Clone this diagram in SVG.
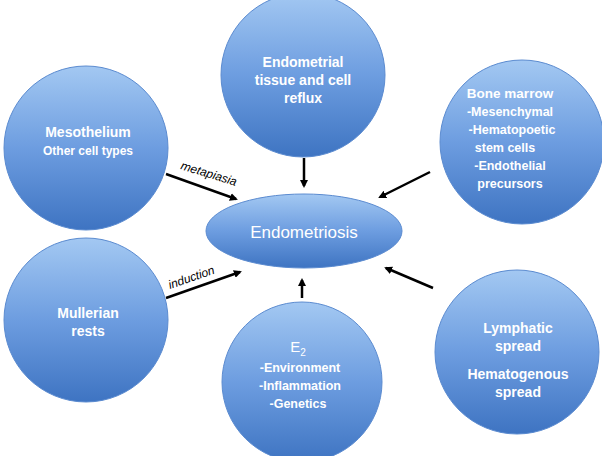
<svg xmlns="http://www.w3.org/2000/svg" width="602" height="456" viewBox="0 0 602 456">
<defs>
<linearGradient id="g" x1="0" y1="0" x2="0" y2="1"><stop offset="0" stop-color="#a3c8f2"/><stop offset="0.5" stop-color="#6d9de0"/><stop offset="1" stop-color="#3e74c2"/></linearGradient>
<marker id="a" markerWidth="8" markerHeight="8" refX="6" refY="4" orient="auto" markerUnits="userSpaceOnUse"><path d="M0,0 L8,4 L0,8 z" fill="#000"/></marker>
</defs>
<style>
.n{fill:url(#g);stroke:#5b8bd0;stroke-width:1}
.t{font-family:"Liberation Sans",Arial,sans-serif;font-weight:bold;fill:#fff;text-anchor:middle}
.c line{stroke:#000;stroke-width:2.5;marker-end:url(#a)}
.l{font-family:"Liberation Sans",Arial,sans-serif;font-size:12px;font-style:italic;fill:#000}
</style>
<rect width="602" height="456" fill="#fff"/>
<g class="c" id="connectors">
<line x1="304" y1="158" x2="304" y2="186"/>
<line x1="166" y1="174" x2="236" y2="199"/>
<line x1="430" y1="172" x2="380" y2="197"/>
<line x1="166" y1="298" x2="240" y2="272"/>
<line x1="302" y1="298" x2="302" y2="280"/>
<line x1="433" y1="288" x2="386" y2="268"/>
</g>
<text class="l" transform="translate(180,169) rotate(17)">metapiasia</text>
<text class="l" transform="translate(170,289) rotate(-19)">induction</text>
<g id="top"><circle class="n" cx="303" cy="75" r="82"/>
<text class="t" font-size="14"><tspan x="303" y="67">Endometrial</tspan><tspan x="303" y="85">tissue and cell</tspan><tspan x="303" y="103">reflux</tspan></text></g>
<g id="meso"><circle class="n" cx="86" cy="148" r="82"/>
<text class="t"><tspan x="88" y="137" font-size="14">Mesothelium</tspan><tspan x="88" y="155" font-size="12">Other cell types</tspan></text></g>
<g id="bone"><circle class="n" cx="522" cy="142" r="82"/>
<text class="t" font-size="12.5"><tspan x="510" y="98" font-size="13.5">Bone marrow</tspan><tspan x="510" y="116">-Mesenchymal</tspan><tspan x="512" y="134">-Hematopoetic</tspan><tspan x="505" y="152">stem cells</tspan><tspan x="510" y="170">-Endothelial</tspan><tspan x="510" y="188">precursors</tspan></text></g>
<g id="endo"><ellipse class="n" cx="304" cy="231" rx="98" ry="37"/>
<text x="304" y="238" font-family="'Liberation Sans',Arial,sans-serif" font-size="17" fill="#fff" text-anchor="middle">Endometriosis</text></g>
<g id="mull"><circle class="n" cx="86" cy="320" r="82"/>
<text class="t" font-size="14"><tspan x="88" y="318">Mullerian</tspan><tspan x="88" y="336">rests</tspan></text></g>
<g id="e2"><circle class="n" cx="302" cy="382" r="80"/>
<text class="t" font-size="12.5"><tspan x="298" y="352" font-size="15" font-weight="normal">E<tspan font-size="10" dy="4">2</tspan></tspan><tspan x="300" y="372">-Environment</tspan><tspan x="300" y="390">-Inflammation</tspan><tspan x="298" y="408">-Genetics</tspan></text></g>
<g id="lymph"><circle class="n" cx="517" cy="352" r="82"/>
<text class="t" font-size="14"><tspan x="518" y="333">Lymphatic</tspan><tspan x="518" y="351">spread</tspan><tspan x="518" y="379">Hematogenous</tspan><tspan x="518" y="397">spread</tspan></text></g>
</svg>
